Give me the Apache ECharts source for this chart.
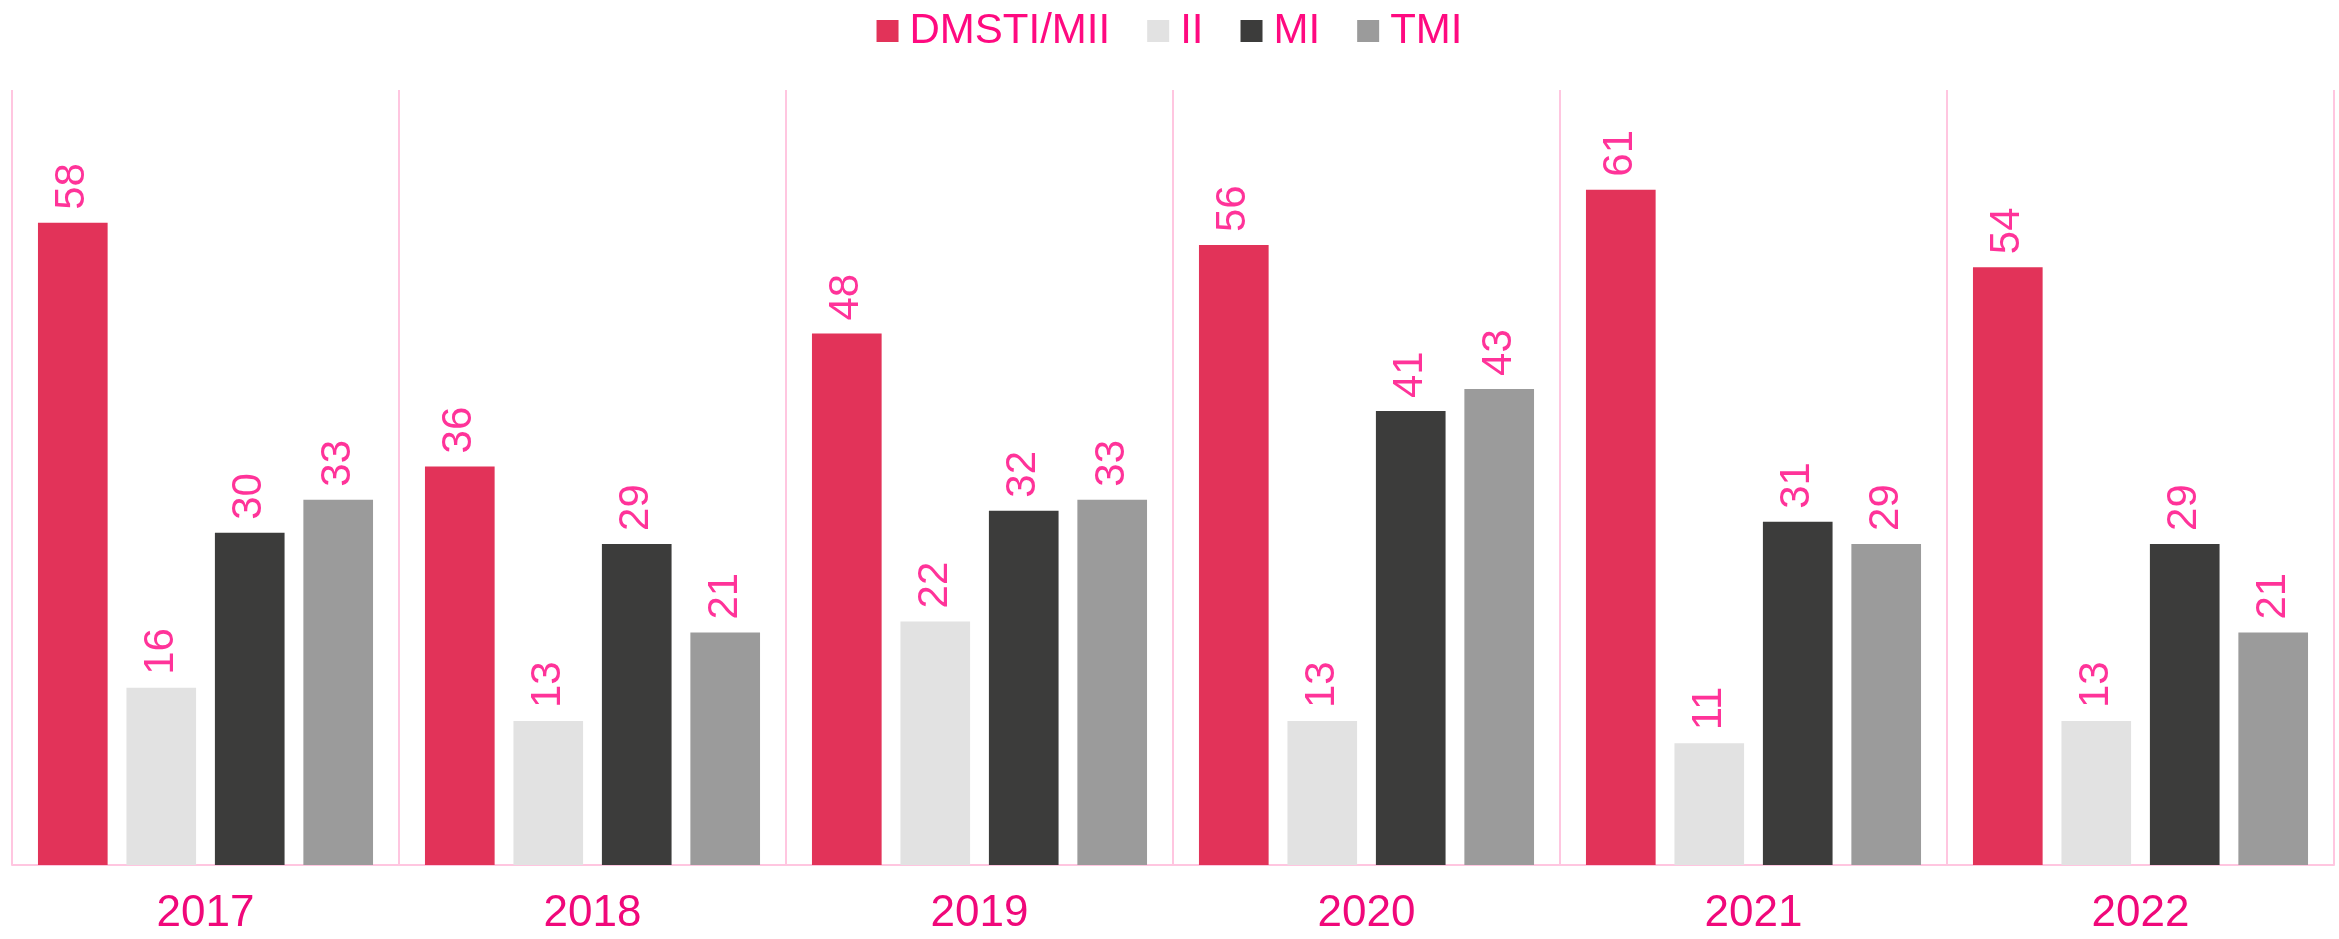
<!DOCTYPE html>
<html>
<head>
<meta charset="utf-8">
<script src="https://cdn.jsdelivr.net/npm/echarts@6/dist/echarts.min.js"></script>
<style>
  html, body { margin: 0; padding: 0; background: #fff; }
  #chart { width: 2339px; height: 939px; }
</style>
</head>
<body>
<div id="chart"></div>
<script>
const years = ['2017', '2018', '2019', '2020', '2021', '2022'];
const seriesNames = ['DMSTI/MII', 'II', 'MI', 'TMI'];
const dmsti = [58, 36, 48, 56, 61, 54];
const ii = [16, 13, 22, 13, 11, 13];
const mi = [30, 29, 32, 41, 31, 29];
const tmi = [33, 21, 33, 43, 29, 21];
const colors = ['#E23359', '#E2E2E2', '#3C3C3B', '#9B9B9B'];

const chart = echarts.init(document.getElementById('chart'));

const labelStyle = {
  show: true,
  position: 'top',
  rotate: 90,
  align: 'left',
  verticalAlign: 'middle',
  distance: 13,
  fontSize: 42,
  fontFamily: 'Liberation Sans',
  color: '#FF3399',
};

const values = [dmsti, ii, mi, tmi];

chart.setOption({
  animation: false,
  legend: {
    data: seriesNames,
    top: 5,
    left: 'center',
    itemWidth: 22,
    itemHeight: 22,
    itemGap: 37,
    icon: 'rect',
    textStyle: { fontSize: 42, fontFamily: 'Liberation Sans', color: '#FF0A80', padding: [0, 0, 0, 6] },
  },
  grid: { left: 12, right: 5, top: 90, bottom: 74 },
  xAxis: {
    type: 'category',
    data: years,
    axisTick: { show: false },
    axisLine: { lineStyle: { color: '#FFC6E0', width: 2 } },
    axisLabel: { fontSize: 44, fontFamily: 'Liberation Sans', color: '#F0087A', margin: 27 },
    splitLine: { show: true, lineStyle: { color: '#FFC6E0', width: 2 } },
  },
  yAxis: {
    type: 'value',
    min: 0,
    max: 70,
    show: false,
    splitLine: { show: false },
  },
  series: seriesNames.map((name, i) => ({
    name,
    type: 'bar',
    data: values[i],
    barWidth: '18%',
    barGap: '27%',
    itemStyle: { color: colors[i] },
    label: labelStyle,
  })),
});
</script>
</body>
</html>
